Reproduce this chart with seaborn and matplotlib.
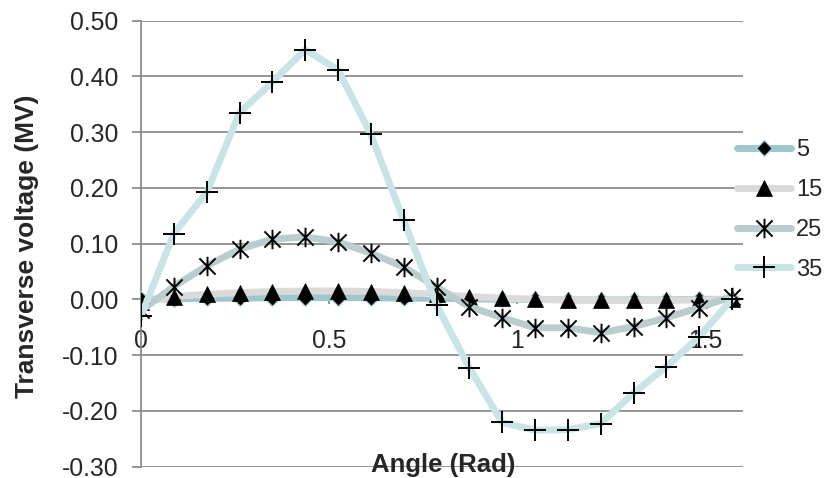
import numpy as np
import pandas as pd
import matplotlib
matplotlib.use("Agg")
import matplotlib.pyplot as plt
from matplotlib.path import Path
from matplotlib.lines import Line2D
import seaborn as sns

# ---- data ----
angles = [0.0, 0.0873, 0.1745, 0.2618, 0.3491, 0.4363, 0.5236, 0.6109, 0.6981, 0.7854,
          0.8727, 0.9599, 1.0472, 1.1345, 1.2217, 1.3090, 1.3963, 1.4835, 1.5708]
series_names = ["5", "15", "25", "35"]
v5 = [0.0, 0.001, 0.002, 0.002, 0.003, 0.003, 0.003, 0.003, 0.002, 0.002,
      0.001, 0.0, 0.0, -0.001, -0.001, -0.001, -0.001, 0.0, 0.0]
v15 = [-0.005, 0.005, 0.009, 0.012, 0.014, 0.015, 0.015, 0.014, 0.012, 0.009,
       0.005, 0.002, 0.0, -0.001, -0.002, -0.002, -0.002, -0.001, 0.0]
v25 = [-0.02, 0.023, 0.06, 0.09, 0.108, 0.112, 0.103, 0.083, 0.058, 0.022,
       -0.013, -0.033, -0.051, -0.051, -0.06, -0.049, -0.033, -0.015, 0.005]
v35 = [-0.03, 0.118, 0.192, 0.335, 0.39, 0.448, 0.412, 0.296, 0.142, -0.01,
       -0.123, -0.221, -0.235, -0.234, -0.223, -0.168, -0.121, -0.067, 0.0]
y_ticks = [-0.3, -0.2, -0.1, 0.0, 0.1, 0.2, 0.3, 0.4, 0.5]
y_tick_labels = ["-0.30", "-0.20", "-0.10", "0.00", "0.10", "0.20", "0.30", "0.40", "0.50"]
x_ticks = [0, 0.5, 1, 1.5]
x_tick_labels = ["0", "0.5", "1", "1.5"]

df = pd.DataFrame({
    "angle": angles * 4,
    "voltage": v5 + v15 + v25 + v35,
    "series": sum([[n] * len(angles) for n in series_names], []),
})

# ---- style ----
sns.set_theme(style="white")
plt.rcParams["font.family"] = ["Liberation Sans", "DejaVu Sans"]

W, H = 827, 478
fig = plt.figure(figsize=(W / 100, H / 100), dpi=100)
ax = fig.add_axes([141 / W, 1 - 466.5 / H, (743 - 141) / W, (466.5 - 20.7) / H])

asterisk = Path([(-1, -1), (1, 1), (-1, 1), (1, -1), (0, -1.2), (0, 1.2)],
                [Path.MOVETO, Path.LINETO, Path.MOVETO, Path.LINETO, Path.MOVETO, Path.LINETO])

styles = {
    "5": dict(color="#9fc7cb", marker="D", ms=8, mfc="black", mec="#a9d6dc", mew=1.0),
    "15": dict(color="#dadada", marker="^", ms=12, mfc="black", mec="black", mew=0.5),
    "25": dict(color="#b9cdcf", marker=asterisk, ms=14, mfc="none", mec="black", mew=1.4),
    "35": dict(color="#c8e4e7", marker="+", ms=16, mfc="none", mec="black", mew=1.4),
}

handles = []
for name in series_names:
    st = styles[name]
    sub = df[df["series"] == name]
    sns.lineplot(data=sub, x="angle", y="voltage", ax=ax, color=st["color"], lw=5,
                 marker=st["marker"], markersize=st["ms"], markerfacecolor=st["mfc"],
                 markeredgecolor=st["mec"], markeredgewidth=st["mew"],
                 estimator=None, sort=False, legend=False, zorder=3)
    handles.append(Line2D([], [], color=st["color"], lw=5, marker=st["marker"],
                          markersize=st["ms"], markerfacecolor=st["mfc"],
                          markeredgecolor=st["mec"], markeredgewidth=st["mew"]))

ax.set_xlim(0, 1.6)
ax.set_ylim(-0.30, 0.50)
ax.set_yticks(y_ticks)
ax.set_yticklabels(y_tick_labels)
ax.set_xticks(x_ticks)
ax.set_xticklabels(x_tick_labels)

ax.set_axisbelow(True)
ax.yaxis.grid(True, color="#8c8c8c", lw=1.3)
ax.xaxis.grid(False)
for s in ["top", "right"]:
    ax.spines[s].set_visible(False)
ax.spines["left"].set_color("#8c8c8c")
ax.spines["left"].set_linewidth(1.3)
ax.spines["bottom"].set_position(("data", 0))
ax.spines["bottom"].set_color("#8c8c8c")
ax.spines["bottom"].set_linewidth(1.3)

ax.tick_params(axis="y", direction="out", length=6.5, width=1.3, color="#8c8c8c",
               pad=10, labelsize=17.8, left=True)
ax.tick_params(axis="x", direction="out", length=3.6, width=1.3, color="#8c8c8c",
               pad=17.5, labelsize=17.8, bottom=True)
ax.set_xlabel("")
ax.set_ylabel("")

fig.text(443 / W, 1 - 465 / H, "Angle (Rad)", ha="center", va="center",
         fontsize=18.5, fontweight="bold")
fig.text(27 / W, 1 - 246 / H, "Transverse voltage (MV)", ha="center", va="center",
         rotation=90, fontsize=19, fontweight="bold")

fig.legend(handles, series_names, loc="center left",
           bbox_to_anchor=(737 / W, 1 - 210 / H), frameon=False, fontsize=17,
           handlelength=2.3, handletextpad=0.2, labelspacing=0.75,
           borderpad=0, borderaxespad=0)

fig.savefig("out.png", dpi=100)
